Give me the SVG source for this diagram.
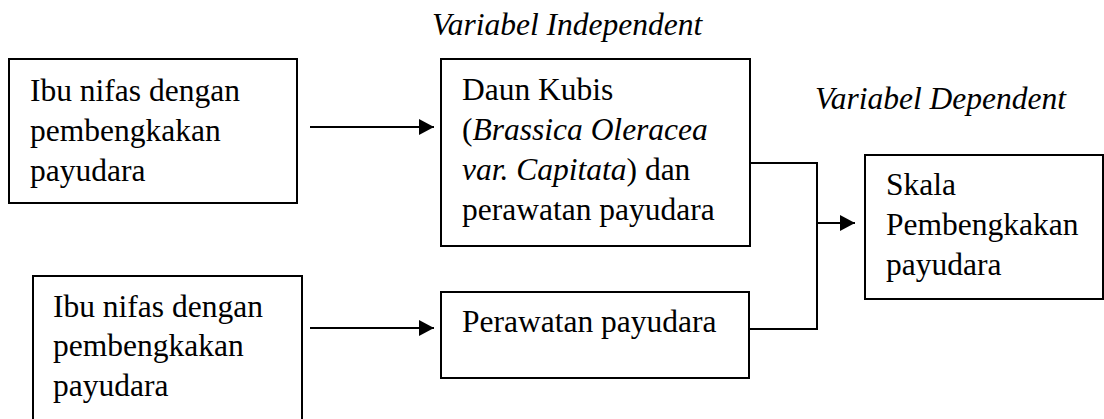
<svg xmlns="http://www.w3.org/2000/svg" width="1104" height="419" viewBox="0 0 1104 419">
<style>
text{font-family:"Liberation Serif","Times New Roman",serif;font-size:31.5px;fill:#000}
.it{font-style:italic}
.box{fill:#fff;stroke:#000;stroke-width:2}
.ln{fill:none;stroke:#000;stroke-width:2}
</style>
<defs>
<marker id="ah" markerWidth="16" markerHeight="16" refX="15" refY="8" orient="auto" markerUnits="userSpaceOnUse">
<polygon points="0,0 15,8 0,16" fill="#000"/>
</marker>
</defs>
<rect width="1104" height="419" fill="#fff"/>
<text class="it" x="432" y="35">Variabel Independent</text>
<text class="it" x="815" y="109">Variabel Dependent</text>
<g id="node-ibu1">
<rect class="box" x="9" y="59" width="288" height="144"/>
<text x="30" y="101">Ibu nifas dengan</text>
<text x="30" y="141">pembengkakan</text>
<text x="30" y="181">payudara</text>
</g>
<g id="node-ibu2">
<rect class="box" x="33" y="276" width="269" height="150"/>
<text x="53" y="317">Ibu nifas dengan</text>
<text x="53" y="356">pembengkakan</text>
<text x="53" y="396">payudara</text>
</g>
<g id="node-daun">
<rect class="box" x="441" y="59" width="309" height="187"/>
<text x="462" y="100">Daun Kubis</text>
<text x="462" y="140">(<tspan class="it">Brassica Oleracea</tspan></text>
<text x="462" y="180"><tspan class="it">var. Capitata</tspan>) dan</text>
<text x="462" y="220">perawatan payudara</text>
</g>
<g id="node-perawatan">
<rect class="box" x="441" y="292" width="308" height="86"/>
<text x="462" y="332">Perawatan payudara</text>
</g>
<g id="node-skala">
<rect class="box" x="865" y="155" width="238" height="144"/>
<text x="886" y="195">Skala</text>
<text x="886" y="235">Pembengkakan</text>
<text x="886" y="275">payudara</text>
</g>
<g id="connectors">
<line class="ln" x1="310" y1="127" x2="434" y2="127" marker-end="url(#ah)"/>
<line class="ln" x1="310" y1="328" x2="434" y2="328" marker-end="url(#ah)"/>
<polyline class="ln" points="750,163 817,163 817,329 749,329"/>
<line class="ln" x1="817" y1="223" x2="855" y2="223" marker-end="url(#ah)"/>
</g>
</svg>
